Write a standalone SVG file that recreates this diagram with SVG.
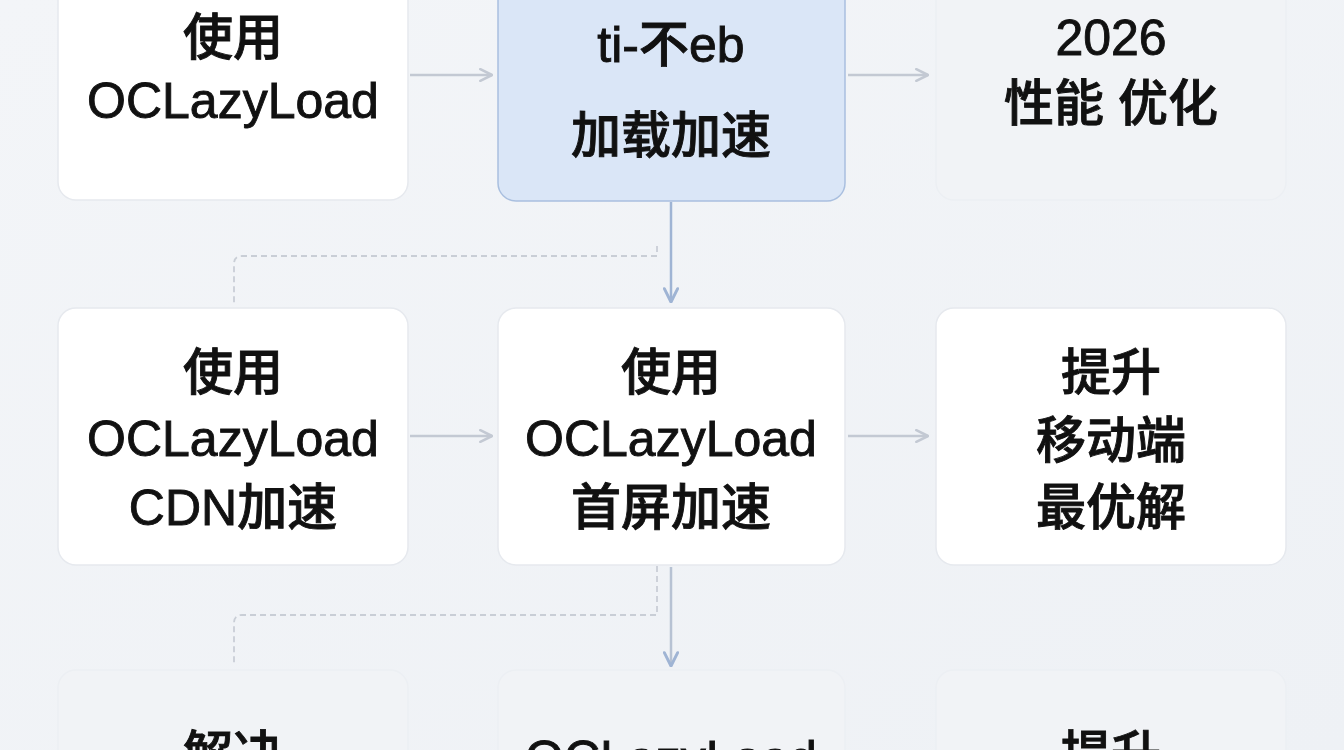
<svg xmlns="http://www.w3.org/2000/svg" width="1344" height="750" viewBox="0 0 1344 750">
<defs>
<linearGradient id="bg" x1="0" y1="0" x2="1" y2="1"><stop offset="0" stop-color="#f3f5f8"/><stop offset="1" stop-color="#eef1f5"/></linearGradient>
<marker id="ah" viewBox="0 0 12 12" refX="11" refY="6" markerWidth="14" markerHeight="14" markerUnits="userSpaceOnUse" orient="auto"><path d="M1 1 L11 6 L1 11" fill="none" stroke="#c3c9d3" stroke-width="2.2" stroke-linecap="round" stroke-linejoin="round"/></marker>
<marker id="ahb" viewBox="0 0 12 12" refX="11" refY="6" markerWidth="16" markerHeight="16" markerUnits="userSpaceOnUse" orient="auto"><path d="M1 1 L11 6 L1 11" fill="none" stroke="#9fb4d4" stroke-width="2.2" stroke-linecap="round" stroke-linejoin="round"/></marker>
</defs>
<style>
.n{fill:#fff;stroke:#e6e9ee;stroke-width:1.5}
.f{fill:#f1f3f6;stroke:#eceff3;stroke-width:1.5}
.h{fill:#dae6f7;stroke:#a9bfdf;stroke-width:1.5}
text{font-family:"Liberation Sans","Noto Sans CJK SC",sans-serif;font-size:50px;font-weight:500;fill:#111;stroke:#111;stroke-width:0.9;text-anchor:middle}
.c{fill:none;stroke:#c3c9d3;stroke-width:2.5}
.d{fill:none;stroke:#c9ced6;stroke-width:1.8;stroke-dasharray:6 4}
</style>
<rect width="1344" height="750" fill="url(#bg)"/>
<g id="connectors">
<line class="c" x1="410" y1="75" x2="492" y2="75" marker-end="url(#ah)"/>
<line class="c" x1="848" y1="75" x2="928" y2="75" marker-end="url(#ah)"/>
<line class="c" x1="410" y1="436" x2="492" y2="436" marker-end="url(#ah)"/>
<line class="c" x1="848" y1="436" x2="928" y2="436" marker-end="url(#ah)"/>
<line fill="none" stroke="#9fb4d4" stroke-width="2.5" x1="671" y1="202" x2="671" y2="302" marker-end="url(#ahb)"/>
<line fill="none" stroke="#b7c2d3" stroke-width="2.5" x1="671" y1="567" x2="671" y2="666" marker-end="url(#ahb)"/>
<path class="d" d="M657 246 V256 H242 Q234 256 234 264 V304"/>
<path class="d" d="M657 566 V615 H242 Q234 615 234 623 V666"/>
</g>
<g id="n1"><rect class="n" x="58" y="-20" width="350" height="220" rx="18"/><text x="233" y="55">使用</text><text x="233" y="118">OCLazyLoad</text></g>
<g id="n2"><rect class="h" x="498" y="-20" width="347" height="221" rx="18"/><text x="671" y="62">ti-不eb</text><text x="671" y="153">加载加速</text></g>
<g id="n3"><rect class="f" x="936" y="-20" width="350" height="220" rx="18"/><text x="1111" y="55">2026</text><text x="1111" y="121">性能 优化</text></g>
<g id="n4"><rect class="n" x="58" y="308" width="350" height="257" rx="18"/><text x="233" y="390">使用</text><text x="233" y="456">OCLazyLoad</text><text x="233" y="525">CDN加速</text></g>
<g id="n5"><rect class="n" x="498" y="308" width="347" height="257" rx="18"/><text x="671" y="390">使用</text><text x="671" y="456">OCLazyLoad</text><text x="671" y="525">首屏加速</text></g>
<g id="n6"><rect class="n" x="936" y="308" width="350" height="257" rx="18"/><text x="1111" y="390">提升</text><text x="1111" y="458">移动端</text><text x="1111" y="525">最优解</text></g>
<g id="n7"><rect class="f" x="58" y="670" width="350" height="120" rx="18"/><text x="233" y="772">解决</text></g>
<g id="n8"><rect class="f" x="498" y="670" width="347" height="120" rx="18"/><text x="671" y="776">OCLazyLoad</text></g>
<g id="n9"><rect class="f" x="936" y="670" width="350" height="120" rx="18"/><text x="1111" y="772">提升</text></g>
</svg>
